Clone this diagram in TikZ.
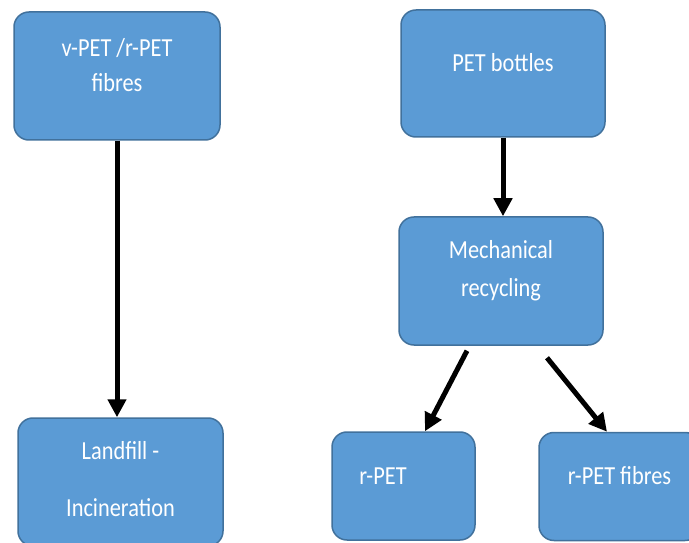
\documentclass[tikz,border=0pt]{standalone}
\usepackage{fontspec}
\setmainfont{Carlito}[FakeStretch=0.86]
\usetikzlibrary{arrows.meta}
\usetikzlibrary{positioning}
\definecolor{boxblue}{HTML}{5B9BD5}
\definecolor{boxedge}{HTML}{41719C}

\begin{document}
\begin{tikzpicture}[x=1pt, y=1pt,
  pbox/.style={draw=boxedge, fill=boxblue, line width=1.5pt, rounded corners=15pt, inner sep=0pt},
  ptext/.style={text=white, align=center, font=\fontsize{26}{35}\selectfont, inner sep=0pt},
  flow/.style={line width=5pt, -{Triangle[length=18pt, width=18pt]}}]
\useasboundingbox (0,0) rectangle (689,542);
\clip (0,0) rectangle (689,542);
\fill[white] (0,0) rectangle (689,542);
% boxes
\node[pbox, minimum width=206pt, minimum height=128pt] (vpet) at (117,466) {};
\node[pbox, minimum width=204pt, minimum height=127pt] (bottles) at (503,468.5) {};
\node[pbox, minimum width=204pt, minimum height=128pt] (mech) at (501,261) {};
\node[pbox, minimum width=205pt, minimum height=128pt] (landfill) at (120.5,60) {};
\node[pbox, minimum width=143pt, minimum height=108pt] (rpet) at (403.5,56) {};
\node[pbox, minimum width=161pt, minimum height=108pt] (fibres) at (619.5,55.5) {};
% texts
\node[ptext] (vpettxt) at ([yshift=10.5pt]vpet.center) {v-PET /r-PET\\fibres};
\node[ptext] (bottlestxt) at ([yshift=10.5pt]bottles.center) {PET bottles};
\node[ptext, font=\fontsize{26}{38}\selectfont] (mechtxt) at ([yshift=10pt]mech.center) {Mechanical\\recycling};
\node[ptext, font=\fontsize{26}{57}\selectfont] (landfilltxt) at ([yshift=2.5pt]landfill.center) {Landfill -\\Incineration};
\node[ptext] (rpettxt) at ([xshift=-20.5pt,yshift=10pt]rpet.center) {r-PET};
\node[ptext] (fibrestxt) at ([yshift=10.5pt]fibres.center) {r-PET fibres};
% arrows
\draw[flow] (vpet.south) -- (vpet.south |- landfill.north);
\draw[flow] (bottles.south) -- (bottles.south |- mech.north);
\draw[flow] ([shift={(-34,-5)}]mech.south) -- ([xshift=21.5pt]rpet.north);
\draw[flow] ([shift={(46,-12)}]mech.south) -- ([xshift=-12.5pt]fibres.north);
\end{tikzpicture}
\end{document}
